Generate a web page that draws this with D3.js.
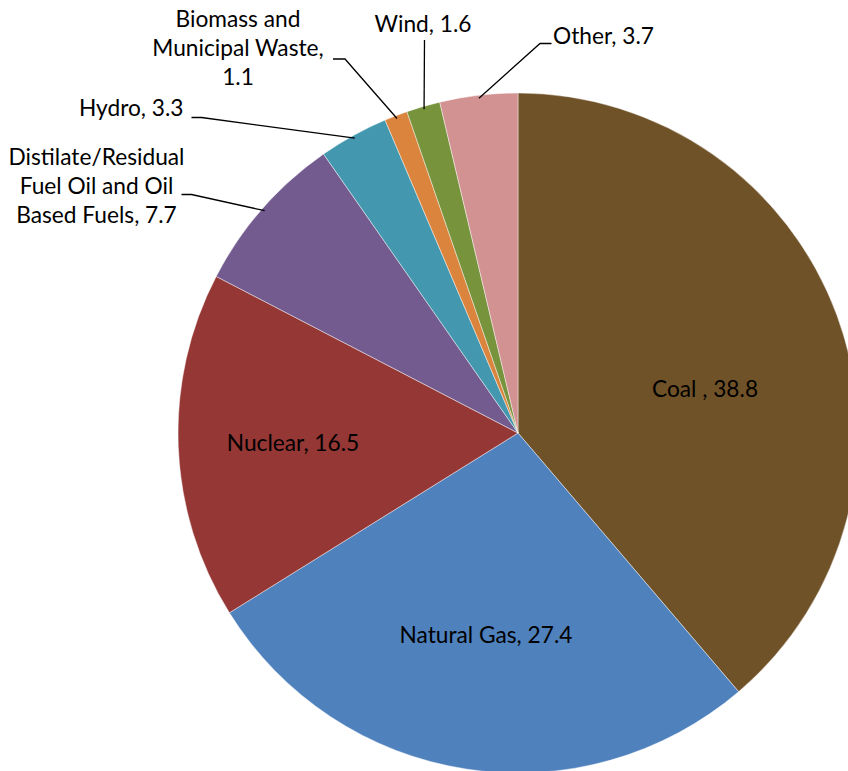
<!DOCTYPE html>
<html>
<head>
<meta charset="utf-8">
<script src="https://cdn.jsdelivr.net/npm/d3@7/dist/d3.min.js"></script>
<style>
  html, body { margin: 0; padding: 0; background: #ffffff; }
  svg { display: block; }
  text { font-family: Lato, "Open Sans", "Liberation Sans", sans-serif; fill: #000; }
</style>
</head>
<body>
<svg id="chart" width="848" height="771"></svg>
<script>
// ---- data ----
const categories = ["Coal", "Natural Gas", "Nuclear",
  "Distilate/Residual Fuel Oil and Oil Based Fuels", "Hydro",
  "Biomass and Municipal Waste", "Wind", "Other"];
const values = [38.8, 27.4, 16.5, 7.7, 3.3, 1.1, 1.6, 3.7];
const labelLines = [
  ["Coal , {v}"],
  ["Natural Gas, {v}"],
  ["Nuclear, {v}"],
  ["Distilate/Residual", "Fuel Oil and Oil", "Based Fuels, {v}"],
  ["Hydro, {v}"],
  ["Biomass and", "Municipal Waste,", "{v}"],
  ["Wind, {v}"],
  ["Other, {v}"]
];
const colors = ["#705228", "#4F81BD", "#943735", "#735A8F",
  "#4398AF", "#DB843D", "#77933C", "#D19291"];

// ---- layout (positions kept separate from data) ----
const W = 848, H = 771;
const cx = 518, cy = 433, radius = 340, leaderR = 337;
const lineH = 29;
const labelLayout = [
  { x: 705, y: 397, anchor: "middle" },
  { x: 486, y: 643, anchor: "middle" },
  { x: 293, y: 451, anchor: "middle" },
  { x: 96.5, y: 165, anchor: "middle", leader: [[191.5, 194.5], [181.5, 194.5]] },
  { x: 183.5, y: 116, anchor: "end", leader: [[201.5, 117.5], [191.5, 117.5]] },
  { x: 238, y: 27, anchor: "middle", leader: [[345, 59], [333, 59]] },
  { x: 423, y: 32, anchor: "middle", leader: [[424.5, 40]] },
  { x: 553, y: 44, anchor: "start", leader: [[540, 43.5], [551.5, 43.5]] }
];

const svg = d3.select("#chart");

// fit a Calibri-like font size: target width of a reference label
const probe = svg.append("text").attr("font-size", 24).text("Natural Gas, 27.4");
const probeW = probe.node().getComputedTextLength();
probe.remove();
const fontSize = 24 * 173 / probeW;

const pie = d3.pie().sort(null).value(d => d)
  .startAngle(0).endAngle(2 * Math.PI);
const arcs = pie(values);
const arc = d3.arc().innerRadius(0).outerRadius(radius);
const leaderArc = d3.arc().innerRadius(leaderR).outerRadius(leaderR);

const g = svg.append("g").attr("transform", `translate(${cx},${cy})`);

g.selectAll("path.slice")
  .data(arcs)
  .join("path")
  .attr("class", "slice")
  .attr("d", arc)
  .attr("fill", (d, i) => colors[i])
  .attr("stroke", "#ffffff")
  .attr("stroke-opacity", 0.55)
  .attr("stroke-width", 0.8);

// leader lines
const line = d3.line();
arcs.forEach((d, i) => {
  const L = labelLayout[i];
  if (!L.leader) return;
  const [ax, ay] = leaderArc.centroid(d);
  const pts = [[ax + cx, ay + cy]].concat(L.leader);
  svg.append("path")
    .attr("d", line(pts))
    .attr("fill", "none")
    .attr("stroke", "#000")
    .attr("stroke-width", 1.3);
});

// labels
const fmt = d3.format(".1f");
arcs.forEach((d, i) => {
  const L = labelLayout[i];
  const t = svg.append("text")
    .attr("font-size", fontSize)
    .attr("text-anchor", L.anchor);
  labelLines[i].forEach((s, k) => {
    t.append("tspan")
      .attr("x", L.x)
      .attr("y", L.y + k * lineH)
      .text(s.replace("{v}", fmt(values[i])));
  });
});
</script>
</body>
</html>
